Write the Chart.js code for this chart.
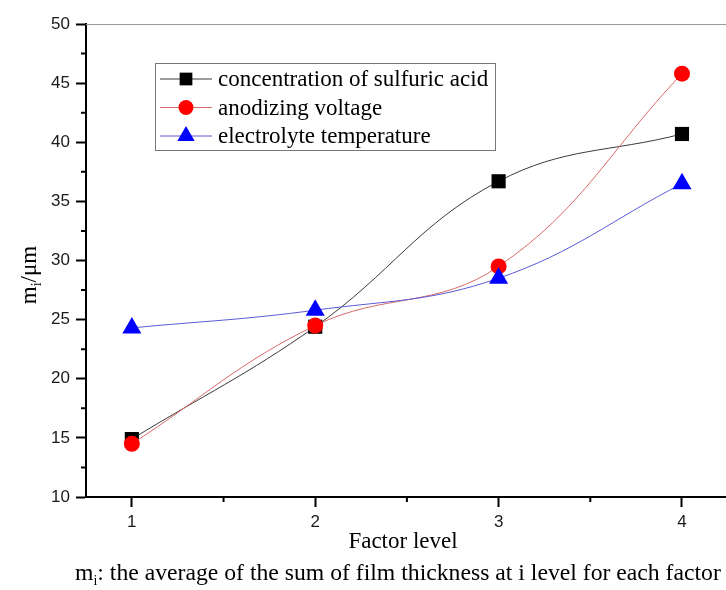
<!DOCTYPE html>
<html>
<head>
<meta charset="utf-8">
<script src="https://cdn.jsdelivr.net/npm/chart.js@4.4.0/dist/chart.umd.min.js"></script>
<style>
  html, body { margin: 0; padding: 0; background: #fff; }
  #wrap { width: 726px; height: 590px; position: relative; }
</style>
</head>
<body>
<div id="wrap"><canvas id="levelChart" width="726" height="590"></canvas></div>
<script>
// factor levels and the mean film thickness (um)
const levels = [1, 2, 3, 4];
const sulfuricAcid = [14.9, 24.4, 36.7, 40.7];
const anodizingVoltage = [14.5, 24.5, 29.5, 45.8];
const electrolyteTemp = [24.3, 25.8, 28.5, 36.5];
const yTicks = [10, 15, 20, 25, 30, 35, 40, 45, 50];
const seriesNames = ['concentration of sulfuric acid', 'anodizing voltage', 'electrolyte temperature'];

const serif = '"Liberation Serif", "Times New Roman", serif';
const sans = '"Liberation Sans", Arial, sans-serif';

function toPoints(vals) {
    return levels.map((lv, i) => ({ x: lv, y: vals[i] }));
}

// draws text pieces in a row, some of them as subscripts
function drawParts(ctx, parts, x, y, align, size) {
    let total = 0;
    parts.forEach(p => {
        ctx.font = (p.sub ? 14 : size) + 'px ' + serif;
        p.w = ctx.measureText(p.t).width;
        total += p.w;
    });
    let cx = align === 'center' ? x - total / 2 : x;
    ctx.textAlign = 'left';
    ctx.textBaseline = 'alphabetic';
    parts.forEach(p => {
        ctx.font = (p.sub ? 14 : size) + 'px ' + serif;
        ctx.fillText(p.t, cx, y + (p.sub ? 5 : 0));
        cx += p.w;
    });
}

const extras = {
    id: 'extras',
    afterDraw(chart) {
        const ctx = chart.ctx;
        const area = chart.chartArea;
        const xs = chart.scales.x;
        const ys = chart.scales.y;
        ctx.save();

        // top frame line
        ctx.strokeStyle = '#9a9a9a';
        ctx.lineWidth = 1;
        ctx.beginPath();
        ctx.moveTo(area.left, area.top + 0.5);
        ctx.lineTo(area.right, area.top + 0.5);
        ctx.stroke();

        // minor ticks
        ctx.strokeStyle = '#000';
        ctx.lineWidth = 2;
        ctx.beginPath();
        for (let v = 12.5; v < 50; v += 5) {
            const py = ys.getPixelForValue(v);
            ctx.moveTo(area.left - 5, py);
            ctx.lineTo(area.left, py);
        }
        for (let v = 1.5; v < 4; v += 1) {
            const px = xs.getPixelForValue(v);
            ctx.moveTo(px, area.bottom);
            ctx.lineTo(px, area.bottom + 5);
        }
        ctx.stroke();

        // legend
        const lx = 155, ly = 63, lw = 340, lh = 87;
        ctx.strokeStyle = '#777';
        ctx.lineWidth = 1;
        ctx.strokeRect(lx + 0.5, ly + 0.5, lw, lh);
        chart.data.datasets.forEach((ds, i) => {
            const rowY = 79 + i * 28.5;
            ctx.strokeStyle = ds.borderColor;
            ctx.lineWidth = 1;
            ctx.beginPath();
            ctx.moveTo(160, rowY);
            ctx.lineTo(212, rowY);
            ctx.stroke();
            ctx.fillStyle = ds.pointBackgroundColor;
            ctx.strokeStyle = ds.pointBackgroundColor;
            Chart.helpers.drawPoint(ctx, {
                pointStyle: ds.pointStyle,
                radius: ds.legendRadius,
                borderWidth: 0
            }, 186, rowY);
            ctx.fillStyle = '#000';
            ctx.font = '23px ' + serif;
            ctx.textAlign = 'left';
            ctx.textBaseline = 'middle';
            ctx.fillText(seriesNames[i], 218, rowY + 1);
        });

        // axis titles and caption
        ctx.fillStyle = '#000';
        ctx.font = '23px ' + serif;
        ctx.textAlign = 'center';
        ctx.textBaseline = 'alphabetic';
        ctx.fillText('Factor level', 403, 548);

        ctx.save();
        ctx.translate(36, 275);
        ctx.rotate(-Math.PI / 2);
        drawParts(ctx, [{ t: 'm' }, { t: 'i', sub: true }, { t: '/\u03bcm' }], 0, 0, 'center', 23);
        ctx.restore();

        drawParts(ctx, [
            { t: 'm' }, { t: 'i', sub: true },
            { t: ': the average of the sum of film thickness at i level for each factor' }
        ], 75, 580, 'left', 23.7);

        ctx.restore();
    }
};

const ctx = document.getElementById('levelChart').getContext('2d');
const levelChart = new Chart(ctx, {
    type: 'line',
    data: {
        datasets: [{
            label: seriesNames[0],
            data: toPoints(sulfuricAcid),
            borderColor: '#3a3a3a',
            borderWidth: 1,
            pointStyle: 'rect',
            pointRadius: 10,
            legendRadius: 9,
            pointBackgroundColor: '#000',
            pointBorderWidth: 0,
            tension: 0.4,
            order: 2
        }, {
            label: seriesNames[1],
            data: toPoints(anodizingVoltage),
            borderColor: '#d96a6a',
            borderWidth: 1,
            pointStyle: 'circle',
            pointRadius: 8,
            legendRadius: 7.5,
            pointBackgroundColor: '#ff0000',
            pointBorderWidth: 0,
            tension: 0.4,
            order: 1
        }, {
            label: seriesNames[2],
            data: toPoints(electrolyteTemp),
            borderColor: '#5a5ad6',
            borderWidth: 1,
            pointStyle: 'triangle',
            pointRadius: 11,
            legendRadius: 10,
            pointBackgroundColor: '#0000ff',
            pointBorderWidth: 0,
            tension: 0.4,
            order: 0
        }]
    },
    options: {
        responsive: false,
        animation: false,
        layout: { autoPadding: false, padding: { top: 24, left: 0, right: 0, bottom: 0 } },
        plugins: {
            legend: { display: false },
            tooltip: { enabled: false }
        },
        scales: {
            x: {
                type: 'linear',
                min: 0.75,
                max: 4.24,
                afterBuildTicks: scale => {
                    scale.ticks = levels.map(v => ({ value: v }));
                },
                afterFit: scale => {
                    scale.height = 93;
                    scale.paddingLeft = 0;
                    scale.paddingRight = 0;
                },
                grid: { drawOnChartArea: false, tickLength: 10, tickColor: '#000', tickWidth: 2 },
                border: { color: '#000', width: 2 },
                ticks: {
                    color: '#1a1a1a',
                    font: { family: sans, size: 17 },
                    padding: 5,
                    maxRotation: 0
                }
            },
            y: {
                min: 10,
                max: 50,
                afterBuildTicks: scale => {
                    scale.ticks = yTicks.map(v => ({ value: v }));
                },
                afterFit: scale => { scale.width = 86; },
                grid: { drawOnChartArea: false, tickLength: 10, tickColor: '#000', tickWidth: 2 },
                border: { color: '#000', width: 2 },
                ticks: {
                    color: '#1a1a1a',
                    font: { family: sans, size: 17 },
                    padding: 6
                }
            }
        }
    },
    plugins: [extras]
});
</script>
</body>
</html>
